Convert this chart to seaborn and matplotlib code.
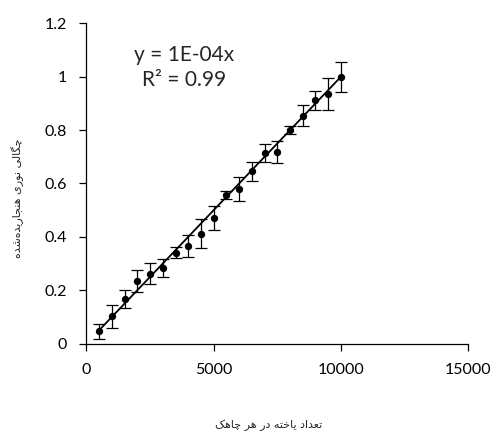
import numpy as np
import pandas as pd
import matplotlib
matplotlib.use("Agg")
import matplotlib.pyplot as plt
import seaborn as sns

# ---- data ----
cells = [500, 1000, 1500, 2000, 2500, 3000, 3500, 4000, 4500, 5000,
         5500, 6000, 6500, 7000, 7500, 8000, 8500, 9000, 9500, 10000]
od = [0.046, 0.102, 0.167, 0.234, 0.262, 0.284, 0.341, 0.366, 0.412, 0.472,
      0.556, 0.580, 0.645, 0.714, 0.719, 0.800, 0.854, 0.912, 0.934, 0.999]
err = [0.028, 0.044, 0.034, 0.040, 0.038, 0.033, 0.020, 0.041, 0.055, 0.045,
       0.016, 0.046, 0.034, 0.035, 0.042, 0.015, 0.039, 0.035, 0.060, 0.055]
slope = 1e-4
eq_text = "y = 1E-04x\nR² = 0.99"
x_label = "تعداد یاخته در هر چاهک"
y_label = "چگالی نوری هنجاریده\u200cشده"
x_ticks = [0, 5000, 10000, 15000]
y_ticks = [0, 0.2, 0.4, 0.6, 0.8, 1.0, 1.2]
y_tick_labels = ["0", "0.2", "0.4", "0.6", "0.8", "1", "1.2"]

# ---- minimal Persian shaping (presentation forms, visual order) ----
FORMS = {  # isolated, final, initial, medial
    "\u062A": ("\uFE95", "\uFE96", "\uFE97", "\uFE98"),
    "\u0639": ("\uFEC9", "\uFECA", "\uFECB", "\uFECC"),
    "\u062F": ("\uFEA9", "\uFEAA", None, None),
    "\u0627": ("\uFE8D", "\uFE8E", None, None),
    "\u06CC": ("\uFBFC", "\uFBFD", "\uFBFE", "\uFBFF"),
    "\u062E": ("\uFEA5", "\uFEA6", "\uFEA7", "\uFEA8"),
    "\u0647": ("\uFEE9", "\uFEEA", "\uFEEB", "\uFEEC"),
    "\u0631": ("\uFEAD", "\uFEAE", None, None),
    "\u0686": ("\uFB7A", "\uFB7B", "\uFB7C", "\uFB7D"),
    "\u06A9": ("\uFB8E", "\uFB8F", "\uFB90", "\uFB91"),
    "\u0646": ("\uFEE5", "\uFEE6", "\uFEE7", "\uFEE8"),
    "\u0648": ("\uFEED", "\uFEEE", None, None),
    "\u062C": ("\uFE9D", "\uFE9E", "\uFE9F", "\uFEA0"),
    "\u06AF": ("\uFB92", "\uFB93", "\uFB94", "\uFB95"),
    "\u0644": ("\uFEDD", "\uFEDE", "\uFEDF", "\uFEE0"),
    "\u0634": ("\uFEB5", "\uFEB6", "\uFEB7", "\uFEB8"),
}


def shape(s):
    out = []
    n = len(s)
    for i, ch in enumerate(s):
        if ch == "\u200c":
            continue
        if ch not in FORMS:
            out.append(ch)
            continue
        f = FORMS[ch]
        prev = s[i - 1] if i > 0 else None
        nxt = s[i + 1] if i + 1 < n else None
        jp = prev in FORMS and FORMS[prev][2] is not None
        jn = f[2] is not None and nxt in FORMS
        if jp and jn:
            out.append(f[3])
        elif jp:
            out.append(f[1])
        elif jn:
            out.append(f[2])
        else:
            out.append(f[0])
    return "".join(out)[::-1]


df = pd.DataFrame({"cells": cells, "od": od, "err": err})
df["fit"] = slope * df["cells"]

sns.set_theme(style="ticks")
plt.rcParams["font.family"] = ["Lato", "DejaVu Sans"]

fig = plt.figure(figsize=(4.97, 4.41), dpi=100)
ax = fig.add_axes([0.174, 0.221, 0.768, 0.726])

sns.lineplot(data=df, x="cells", y="fit", ax=ax, color="black", linewidth=1.3)
ax.errorbar(df["cells"], df["od"], yerr=df["err"], fmt="none",
            ecolor="black", elinewidth=0.9, capsize=4.3, capthick=0.9, zorder=3)
sns.scatterplot(data=df, x="cells", y="od", ax=ax, color="black", s=28,
                edgecolor="black", linewidth=0, zorder=4)

ax.set_xlim(0, 15000)
ax.set_ylim(0, 1.2)
ax.set_xticks(x_ticks)
ax.set_xticklabels([str(t) for t in x_ticks])
ax.set_yticks(y_ticks)
ax.set_yticklabels(y_tick_labels)
ax.tick_params(axis="both", labelsize=11.5, colors="black", length=5,
               width=0.9, direction="out")
ax.tick_params(axis="x", pad=9)
ax.tick_params(axis="y", pad=9)
for side in ["top", "right"]:
    ax.spines[side].set_visible(False)
for side in ["left", "bottom"]:
    ax.spines[side].set_color("black")
    ax.spines[side].set_linewidth(0.9)

ax.set_xlabel("")
ax.set_ylabel("")
fig.text(0.54, 0.035, shape(x_label), ha="center", va="center",
         fontsize=8, family=["DejaVu Sans"])
fig.text(0.036, 0.55, shape(y_label), ha="center", va="center",
         rotation=90, fontsize=8, family=["DejaVu Sans"])

ax.text(0.255, 0.862, eq_text, transform=ax.transAxes, ha="center",
        va="center", fontsize=15, linespacing=1.35)

fig.savefig("out.png", dpi=100)
